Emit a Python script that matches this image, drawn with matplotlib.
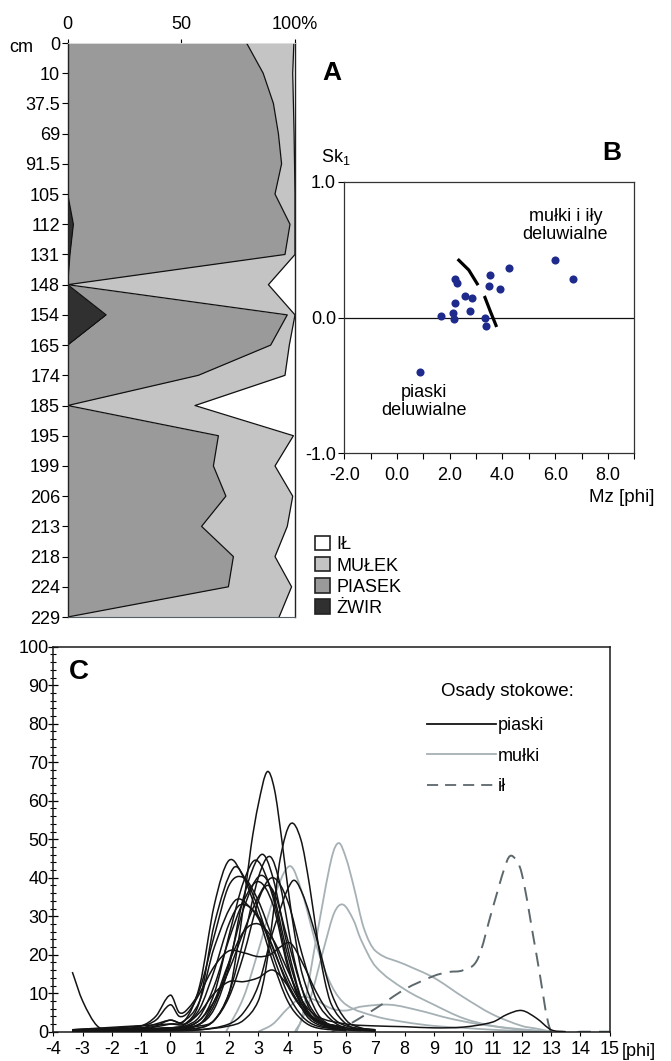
import numpy as np
import matplotlib
matplotlib.use("Agg")
import matplotlib.pyplot as plt
from matplotlib.path import Path
from matplotlib.patches import PathPatch, Patch
from matplotlib.lines import Line2D
from matplotlib.ticker import MultipleLocator

plt.rcParams['font.family'] = ['Liberation Sans', 'DejaVu Sans']
plt.rcParams['lines.scale_dashes'] = False

FS = 13

# ---------------- Panel A data (percent) ----------------
depth_labels = ['0', '10', '37.5', '69', '91.5', '105', '112', '131', '148', '154',
                '165', '174', '185', '195', '199', '206', '213', '218', '224', '229']
zwir   = [0.3, 0.3, 0.3, 0.3, 0.3, 0.0, 2.5, 1.0, 0.0, 16.9,
          0.0, 0.0, 0.0, 0.0, 0.0, 0.0, 0.0, 0.0, 0.0, 0.0]
piasek = [78.4, 85.7, 90.2, 92.4, 93.8, 91.2, 95.3, 94.6, 0.0, 79.7,
          89.3, 57.5, 0.0, 66.3, 64.1, 69.6, 58.9, 72.9, 70.7, 0.0]
mulek  = [20.8, 13.0, 8.8, 6.9, 5.7, 8.8, 2.2, 4.4, 88.3, 3.4,
          8.2, 38.1, 56.0, 33.0, 27.1, 29.4, 37.7, 18.3, 27.8, 93.0]
il     = [0.5, 1.0, 0.7, 0.4, 0.2, 0.0, 0.0, 0.0, 11.7, 0.0,
          2.5, 4.4, 44.0, 0.7, 8.8, 1.0, 3.4, 8.8, 1.5, 7.0]
fraction_names = ['IŁ', 'MUŁEK', 'PIASEK', 'ŻWIR']

# ---------------- Panel B data ----------------
mz = [0.89, 1.67, 2.11, 2.15, 2.18, 2.19, 2.29, 2.59, 2.85, 2.75, 3.35, 3.39,
      3.48, 3.51, 3.92, 4.24, 5.99, 6.68]
sk = [-0.40, 0.01, 0.03, -0.01, 0.105, 0.28, 0.255, 0.155, 0.14, 0.05, 0.0, -0.065,
      0.23, 0.315, 0.21, 0.365, 0.425, 0.28]
boundary_mz = [2.30, 2.72, 3.10, 3.32, 3.54, 3.80]
boundary_sk = [0.43, 0.35, 0.23, 0.155, 0.045, -0.08]

# ---------------- Panel C data (phi, %) ----------------
p01 = [(-3.35, 0.3), (-2, 0.3), (-1, 0.5), (0, 1), (1, 1.5), (1.5, 3), (2, 10), (2.25, 20), (2.5, 33),
       (2.75, 48), (3, 59), (3.3, 67.5), (3.55, 63), (3.8, 50), (4, 38), (4.25, 25), (4.5, 15),
       (5, 5), (5.5, 1.5), (6, 0.5), (7, 0.2)]
p02 = [(-3.35, 0), (0, 0.3), (1, 0.5), (2, 1.5), (2.5, 3), (3, 8), (3.25, 16), (3.5, 30), (3.75, 45),
       (4.1, 54), (4.45, 50), (4.75, 38), (5, 25), (5.25, 14), (5.5, 7), (6, 2), (6.5, 0.5), (7, 0.2)]
p03 = [(-3.35, 0.5), (-2, 0.5), (-1, 0.7), (0, 2), (0.5, 3), (1, 12), (1.5, 33), (2, 44.5), (2.5, 40),
       (3, 30), (3.5, 18), (4, 8), (4.5, 3), (5, 1), (6, 0.3)]
p04 = [(-3.35, 0.3), (-1, 0.5), (0, 1), (0.5, 2), (1, 8), (1.5, 28), (2.15, 42.5), (2.6, 39), (3, 32),
       (3.5, 20), (4, 10), (4.5, 4), (5, 1.5), (6, 0.5)]
p05 = [(-3.35, 0.2), (0, 0.5), (1, 2), (1.5, 6), (2, 17), (2.5, 35), (3.1, 46), (3.5, 40), (4, 22),
       (4.5, 8), (5, 3), (6, 0.5)]
p06 = [(-3.35, 0.2), (0, 0.5), (1, 1), (1.5, 3), (2, 10), (2.5, 24), (3, 40), (3.4, 45.5), (3.75, 38),
       (4.25, 18), (4.75, 6), (5.5, 1), (6, 0.3)]
p07 = [(-3.35, 0.3), (0, 1), (1, 3), (1.5, 10), (2, 25), (2.5, 39), (2.95, 44.5), (3.5, 35), (4, 18),
       (4.5, 6), (5, 2), (6, 0.5)]
p08 = [(-3.35, 0.2), (0, 0.5), (1, 2), (1.5, 7), (2, 18), (2.5, 32), (3.05, 40.5), (3.5, 36), (4, 20),
       (4.5, 8), (5, 3), (6, 1)]
p09 = [(-3.35, 0.4), (0, 1), (0.5, 1.5), (1, 4), (1.5, 12), (2, 24), (2.5, 34), (3, 39), (3.5, 33),
       (4, 17), (4.5, 7), (5, 2.5), (6, 0.7)]
p10 = [(-3.35, 0.2), (0, 0.5), (1, 1), (1.5, 3), (2, 9), (2.5, 20), (3, 34), (3.3, 38), (3.6, 35),
       (4, 24), (4.5, 11), (5, 4), (5.5, 1.5), (6, 0.5)]
p11 = [(-3.35, 0), (0, 0.2), (1, 0.5), (2, 2), (2.5, 5), (3, 12), (3.5, 26), (4.15, 39), (4.5, 36),
       (5, 24), (5.5, 10), (6, 3), (6.5, 1), (7, 0.3)]
p12 = [(-3.35, 0.5), (-1, 1), (-0.5, 2), (0, 3), (0.4, 2.5), (1, 8), (1.5, 22), (2.2, 34), (2.75, 32),
       (3.25, 26), (3.75, 17), (4.25, 9), (4.75, 4), (5.5, 1), (6.5, 0.3)]
p13 = [(-3.35, 0.5), (0, 2), (0.5, 2), (1, 6), (1.5, 16), (2, 28), (2.4, 33), (3, 30), (3.5, 22),
       (4, 12), (4.5, 6), (5, 3), (6, 1), (7, 0.5)]
p14 = [(-3.35, 0.5), (-1, 1.5), (-0.5, 3), (0, 7), (0.3, 4), (0.6, 5), (1, 10), (1.5, 17), (2, 21),
       (2.5, 20.5), (3, 19.5), (3.4, 20), (3.75, 22), (4.1, 23), (4.5, 18), (5, 10), (5.5, 4),
       (6, 1.5), (7, 0.5)]
p15 = [(-3.35, 0.3), (-1, 1), (-0.5, 1.5), (0, 3), (0.5, 2), (1, 5), (1.5, 10), (2, 13), (2.5, 13),
       (3, 14), (3.5, 16), (4, 12), (4.5, 6), (5, 2.5), (6, 0.5)]
p16 = [(-3.35, 0.5), (-2, 0.5), (-1, 1.5), (-0.5, 4), (0, 9.5), (0.3, 5), (0.6, 6), (1, 11), (1.5, 25),
       (2, 38), (2.5, 40), (3, 34), (3.5, 24), (4, 14), (4.5, 7), (5, 3), (6, 1)]
p17 = [(-3.35, 15.5), (-3, 8), (-2.5, 1.5), (-2, 0.5), (-1, 0.5), (0, 1), (0.5, 1), (1, 3), (1.5, 8),
       (2, 16), (2.5, 26), (3, 35), (3.5, 40), (4, 34), (4.5, 20), (5, 8), (5.5, 3), (6, 1), (7, 0.3)]
p18 = [(-3.35, 0), (0, 0.5), (1, 2), (1.5, 8), (2, 18), (2.5, 26), (3, 28), (3.5, 24), (4, 16),
       (4.5, 8), (5, 4), (6, 2), (7, 1.5), (8, 1.3), (9, 1), (10, 1.2), (11, 2.5), (11.5, 4.5),
       (12, 5.5), (12.5, 3.5), (13, 0.5), (13.5, 0)]
piaski = [p01, p02, p03, p04, p05, p06, p07, p08, p09, p10, p11, p12, p13, p14, p15, p16, p17, p18]

g1 = [(4.25, 0), (4.5, 4), (5, 25), (5.5, 45), (5.75, 49), (6, 45), (6.25, 38), (6.6, 27), (7, 21),
      (8, 17.5), (9, 14), (10, 9), (11, 4.5), (12, 1.5), (12.5, 0.8), (13, 0)]
g2 = [(4.3, 0), (4.75, 8), (5.25, 22), (5.6, 31), (5.9, 33), (6.25, 29), (6.5, 24), (7, 17), (8, 11),
      (9, 7), (10, 3.5), (11, 1.5), (12, 0.5), (13, 0)]
g3 = [(1.9, 0), (2.5, 9), (3, 21), (3.5, 34), (4.07, 43), (4.5, 36), (5, 22), (5.5, 12), (6, 7),
      (7, 4), (8, 2.5), (9, 1.5), (10, 1), (11, 0.5), (12, 0.2), (13, 0)]
g4 = [(3, 0), (3.5, 2), (4, 6), (4.5, 9), (5, 8), (5.5, 6), (6, 5.5), (6.5, 6.5), (7.5, 7), (8.5, 5.5),
      (9.5, 3.5), (10.5, 2), (11.5, 1), (12.5, 0.3), (13, 0)]
mulki = [g1, g2, g3, g4]

il_curve = [(5.5, 0), (6, 1.5), (7, 6), (8, 11), (9, 14.5), (9.5, 15.5), (10, 16), (10.5, 19), (11, 32),
            (11.5, 44.5), (11.7, 45.5), (12, 41), (12.5, 20), (13, 0), (14, 0), (15, 0)]

phi_ticks = list(range(-4, 16))

# ---------------- helpers ----------------
W, H = 671, 1061
def fx(px):
    return px / W
def fy(py):
    return 1 - py / H

def smooth_path(pts):
    x = np.array([p[0] for p in pts], float)
    y = np.array([p[1] for p in pts], float)
    n = len(x)
    m = np.empty(n)
    m[0] = (y[1] - y[0]) / (x[1] - x[0])
    m[-1] = (y[-1] - y[-2]) / (x[-1] - x[-2])
    m[1:-1] = (y[2:] - y[:-2]) / (x[2:] - x[:-2])
    verts = [(x[0], y[0])]
    codes = [Path.MOVETO]
    for i in range(n - 1):
        h = x[i + 1] - x[i]
        verts += [(x[i] + h / 3, y[i] + m[i] * h / 3),
                  (x[i + 1] - h / 3, y[i + 1] - m[i + 1] * h / 3),
                  (x[i + 1], y[i + 1])]
        codes += [Path.CURVE4] * 3
    return Path(verts, codes)

fig = plt.figure(figsize=(W / 100, H / 100), dpi=100)

# ================= Panel A =================
axA = fig.add_axes([fx(67.7), fy(617), (295 - 67.7) / W, (617 - 43) / H])
ypos = np.arange(len(depth_labels))
c1 = np.array(zwir)
c2 = c1 + np.array(piasek)
c3 = c2 + np.array(mulek)
col_zwir, col_pias, col_mul, col_il = '#303030', '#9a9a9a', '#c4c4c4', '#ffffff'
axA.fill_betweenx(ypos, 0, c1, color=col_zwir, lw=0)
axA.fill_betweenx(ypos, c1, c2, color=col_pias, lw=0)
axA.fill_betweenx(ypos, c2, c3, color=col_mul, lw=0)
axA.fill_betweenx(ypos, c3, 100, color=col_il, lw=0)
for c in (c1, c2, c3):
    axA.plot(c, ypos, color='#111111', lw=0.9)
axA.set_xlim(0, 100)
axA.set_ylim(ypos[-1], 0)
axA.xaxis.tick_top()
axA.set_xticks([0, 50, 100])
axA.set_xticklabels(['0', '50', '100%'], fontsize=FS)
axA.tick_params(axis='x', direction='out', length=3, pad=4, width=0.8)
axA.set_yticks(ypos)
axA.set_yticklabels(depth_labels, fontsize=FS)
axA.tick_params(axis='y', direction='out', length=4, pad=1.5, width=0.8)
for s in ['left', 'right']:
    axA.spines[s].set_color('#222222')
    axA.spines[s].set_linewidth(1.0)
axA.spines['bottom'].set_color('#556066')
axA.spines['top'].set_color('#dddddd')
axA.spines['top'].set_linewidth(0.6)
fig.text(fx(21), fy(48), 'cm', ha='center', va='center', fontsize=FS)

handles = [Patch(facecolor=col_il, edgecolor='#222222', lw=1.2),
           Patch(facecolor=col_mul, edgecolor='#222222', lw=1.2),
           Patch(facecolor=col_pias, edgecolor='#222222', lw=1.2),
           Patch(facecolor=col_zwir, edgecolor='#222222', lw=1.2)]
fig.legend(handles, fraction_names, loc='upper left',
           bbox_to_anchor=(fx(315), fy(536)), frameon=False, fontsize=FS,
           handlelength=0.85, handleheight=0.85, handletextpad=0.35,
           labelspacing=0.2, borderpad=0, borderaxespad=0)

# ================= Panel B =================
axB = fig.add_axes([fx(344.3), fy(453.3), (634.3 - 344.3) / W, (453.3 - 181.7) / H])
axB.axhline(0, color='#111111', lw=0.9)
axB.scatter(mz, sk, s=34, color='#1f2b8c', zorder=3, linewidths=0)
axB.plot(boundary_mz, boundary_sk, color='black', lw=2.3, dashes=(24, 9), zorder=2)
axB.set_xlim(-2, 9)
axB.set_ylim(-1, 1)
axB.set_xticks([-2, 0, 2, 4, 6, 8])
axB.set_xticklabels(['-2.0', '0.0', '2.0', '4.0', '6.0', '8.0'], fontsize=FS)
axB.xaxis.set_minor_locator(MultipleLocator(1))
axB.set_yticks([-1, 0, 1])
axB.set_yticklabels(['-1.0', '0.0', '1.0'], fontsize=FS)
axB.tick_params(axis='x', which='both', direction='out', length=4, pad=6, width=0.8)
axB.tick_params(axis='y', direction='out', length=4, pad=2, width=0.8)
for s in axB.spines.values():
    s.set_color('#333333')
    s.set_linewidth(0.9)
axB.text(6.39, 0.68, 'mułki i iły\ndeluwialne', ha='center', va='center',
         fontsize=FS, linespacing=1.1)
axB.text(1.01, -0.62, 'piaski\ndeluwialne', ha='center', va='center',
         fontsize=FS, linespacing=1.1)
fig.text(fx(336), fy(157), 'Sk$_\\mathregular{1}$', ha='center', va='center', fontsize=FS)
fig.text(fx(622), fy(498), 'Mz [phi]', ha='center', va='center', fontsize=FS + 0.5)
fig.text(fx(332), fy(73), 'A', ha='center', va='center', fontsize=19, fontweight='bold')
fig.text(fx(612), fy(153), 'B', ha='center', va='center', fontsize=19, fontweight='bold')

# ================= Panel C =================
axC = fig.add_axes([fx(53.3), fy(1031.7), (609.7 - 53.3) / W, 385 / H])
for crv in mulki:
    axC.add_patch(PathPatch(smooth_path(crv), fill=False, edgecolor='#a6b1b5', lw=1.3, zorder=2))
for crv in piaski:
    axC.add_patch(PathPatch(smooth_path(crv), fill=False, edgecolor='#141414', lw=1.1, zorder=3))
axC.add_patch(PathPatch(smooth_path(il_curve), fill=False, edgecolor='#5d686c', lw=1.4,
                        linestyle=(0, (10, 6)), zorder=2))
axC.set_xlim(-4, 15)
axC.set_ylim(0, 100)
axC.set_xticks(phi_ticks)
axC.set_xticklabels([str(v) for v in phi_ticks], fontsize=FS)
axC.set_yticks(range(0, 101, 10))
axC.set_yticklabels([str(v) for v in range(0, 101, 10)], fontsize=FS)
axC.yaxis.set_minor_locator(MultipleLocator(2))
axC.tick_params(axis='y', which='major', direction='inout', length=7, pad=0, width=0.9)
axC.tick_params(axis='y', which='minor', direction='inout', length=4, width=0.8)
axC.tick_params(axis='x', which='major', direction='out', length=3, pad=4, width=0.8)
for s in axC.spines.values():
    s.set_color('#1a1a1a')
    s.set_linewidth(1.1)
axC.text(15.4, -0.052, '[phi]', transform=axC.get_xaxis_transform(), ha='left', va='center',
         fontsize=FS)
fig.text(fx(79), fy(672), 'C', ha='center', va='center', fontsize=20, fontweight='bold')
fig.text(fx(507), fy(692), 'Osady stokowe:', ha='center', va='center', fontsize=FS + 0.5)
leg_handles = [Line2D([], [], color='#141414', lw=1.3),
               Line2D([], [], color='#a6b1b5', lw=1.3),
               Line2D([], [], color='#5d686c', lw=1.3, linestyle=(0, (8, 5)))]
fig.legend(leg_handles, ['piaski', 'mułki', 'ił'], loc='upper left',
           bbox_to_anchor=(fx(427), fy(717)), frameon=False, fontsize=FS,
           handlelength=3.8, handletextpad=0.1, labelspacing=0.75,
           borderpad=0, borderaxespad=0)

fig.savefig('out.png', dpi=100)
